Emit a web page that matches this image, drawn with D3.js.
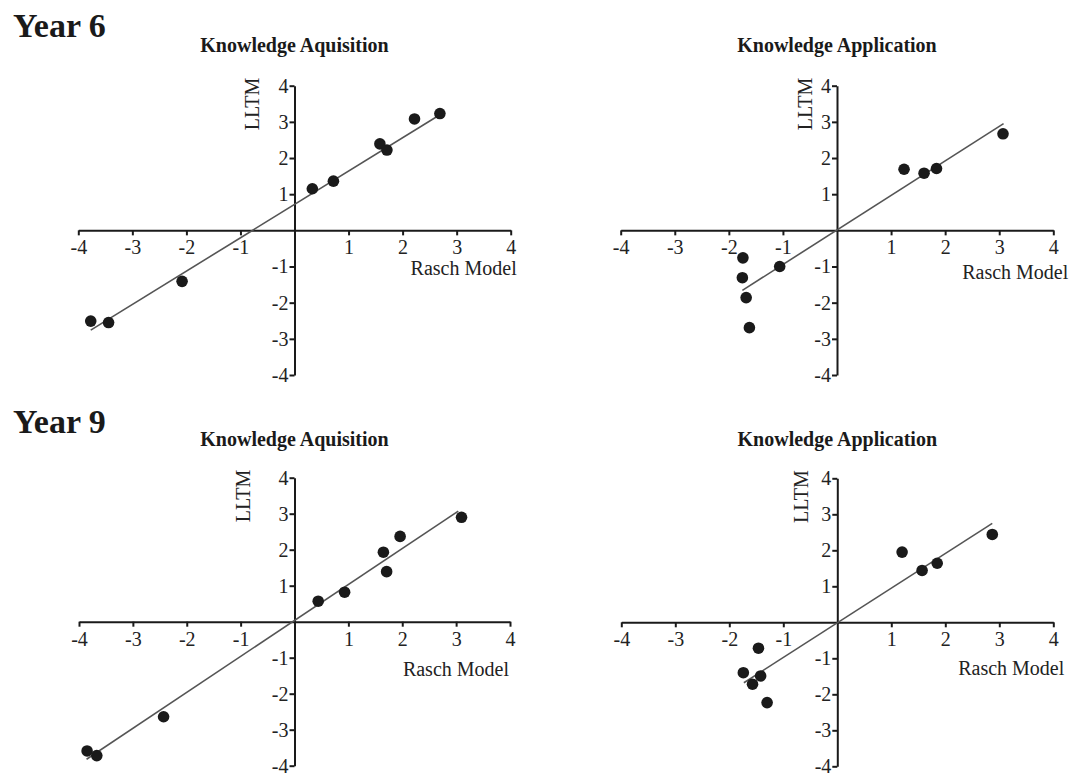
<!DOCTYPE html>
<html>
<head>
<meta charset="utf-8">
<script src="https://cdn.jsdelivr.net/npm/d3@7"></script>
<style>
  body { margin: 0; background: #fff; }
  svg { font-family: "Liberation Serif", "Times New Roman", serif; }
  .axis path, .axis line { stroke: #1a1a1a; stroke-width: 2; }
</style>
</head>
<body>
<div id="chart"></div>
<script>
// values: Rasch model estimate (x) vs LLTM estimate (y)
const tickVals = [-4, -3, -2, -1, 1, 2, 3, 4];

// Year 6 - Knowledge Aquisition
const y6AcqRasch = [-3.77, -3.44, -2.08, 0.33, 0.72, 1.58, 1.71, 2.22, 2.69];
const y6AcqLltm = [-2.51, -2.55, -1.41, 1.15, 1.36, 2.39, 2.22, 3.08, 3.23];
const y6AcqFit = [[-3.77, -2.76], [2.78, 3.28]];

// Year 6 - Knowledge Application
const y6AppRasch = [-1.74, -1.75, -1.68, -1.62, -1.06, 1.24, 1.61, 1.84, 3.07];
const y6AppLltm = [-0.76, -1.31, -1.86, -2.69, -1.0, 1.69, 1.58, 1.71, 2.67];
const y6AppFit = [[-1.75, -1.66], [3.08, 2.95]];

// Year 9 - Knowledge Aquisition
const y9AcqRasch = [-3.85, -3.67, -2.43, 0.44, 0.93, 1.65, 1.71, 1.96, 3.1];
const y9AcqLltm = [-3.59, -3.72, -2.64, 0.57, 0.82, 1.93, 1.39, 2.37, 2.9];
const y9AcqFit = [[-3.86, -3.82], [3.04, 3.07]];

// Year 9 - Knowledge Application
const y9AppRasch = [-1.46, -1.74, -1.42, -1.57, -1.3, 1.2, 1.57, 1.85, 2.87];
const y9AppLltm = [-0.72, -1.4, -1.49, -1.72, -2.23, 1.95, 1.44, 1.64, 2.44];
const y9AppFit = [[-1.73, -1.68], [2.87, 2.75]];

const width = 1070;
const height = 774;

const svg = d3
  .select("#chart")
  .append("svg")
  .attr("width", width)
  .attr("height", height);

// panel layout (pixel boxes + label nudges)
const panels = [
  { title: "Knowledge Aquisition", rasch: y6AcqRasch, lltm: y6AcqLltm, fit: y6AcqFit,
    x: [78.3, 510.7], y: [375, 85.7], titleY: 52, lltmDx: -36, raschDx: 6, raschDy: 45 },
  { title: "Knowledge Application", rasch: y6AppRasch, lltm: y6AppLltm, fit: y6AppFit,
    x: [620.7, 1053.3], y: [375, 85.7], titleY: 52, lltmDx: -25, raschDx: 15, raschDy: 49 },
  { title: "Knowledge Aquisition", rasch: y9AcqRasch, lltm: y9AcqLltm, fit: y9AcqFit,
    x: [79, 510], y: [765.7, 477.7], titleY: 446, lltmDx: -45, raschDx: -1, raschDy: 54 },
  { title: "Knowledge Application", rasch: y9AppRasch, lltm: y9AppLltm, fit: y9AppFit,
    x: [621.3, 1053.3], y: [766.3, 478.3], titleY: 446, lltmDx: -29, raschDx: 11, raschDy: 53 },
];

// year headings
svg.append("text").attr("x", 13).attr("y", 37)
  .style("font-size", "34px").style("font-weight", "bold").attr("fill", "#1a1a1a")
  .text("Year 6");
svg.append("text").attr("x", 13).attr("y", 433)
  .style("font-size", "34px").style("font-weight", "bold").attr("fill", "#1a1a1a")
  .text("Year 9");

function styleTicks(axisG) {
  axisG.attr("font-family", null).attr("font-size", null);
  axisG.selectAll("text")
    .style("font-family", '"Liberation Serif", "Times New Roman", serif')
    .style("font-size", "20px")
    .attr("fill", "#222");
}

panels.forEach((p) => {
  const xScale = d3.scaleLinear().domain([-4, 4]).range(p.x);
  const yScale = d3.scaleLinear().domain([-4, 4]).range(p.y);
  const x0 = xScale(0);
  const y0 = yScale(0);
  const g = svg.append("g");

  // title, centred over the vertical axis
  g.append("text")
    .attr("x", x0)
    .attr("y", p.titleY)
    .attr("text-anchor", "middle")
    .style("font-size", "20px")
    .style("font-weight", "bold")
    .attr("fill", "#1a1a1a")
    .text(p.title);

  // x-axis through y = 0
  const xAxis = g
    .append("g")
    .attr("class", "axis")
    .attr("transform", `translate(0,${y0})`)
    .call(d3.axisBottom(xScale).tickValues(tickVals).tickSize(5).tickSizeOuter(0)
      .tickFormat((d) => String(d)));
  styleTicks(xAxis);
  xAxis.selectAll("text").attr("y", 24).attr("dy", null);

  // y-axis through x = 0
  const yAxis = g
    .append("g")
    .attr("class", "axis")
    .attr("transform", `translate(${x0},0)`)
    .call(d3.axisLeft(yScale).tickValues(tickVals).tickSize(5).tickSizeOuter(0)
      .tickPadding(1).tickFormat((d) => String(d)));
  styleTicks(yAxis);

  // axis titles
  g.append("text")
    .attr("transform", `translate(${x0 + p.lltmDx},${p.y[1] - 8}) rotate(-90)`)
    .attr("text-anchor", "end")
    .style("font-size", "20px")
    .attr("fill", "#222")
    .text("LLTM");

  g.append("text")
    .attr("x", p.x[1] + p.raschDx)
    .attr("y", y0 + p.raschDy)
    .attr("text-anchor", "end")
    .style("font-size", "20px")
    .attr("fill", "#222")
    .text("Rasch Model");

  // fitted line
  g.append("path")
    .datum(p.fit)
    .attr("fill", "none")
    .attr("stroke", "#555")
    .attr("stroke-width", 1.6)
    .attr("d", d3.line().x((d) => xScale(d[0])).y((d) => yScale(d[1])));

  // item points
  g.selectAll(".dot")
    .data(p.rasch.map((r, i) => ({ rasch: r, lltm: p.lltm[i] })))
    .enter()
    .append("circle")
    .attr("class", "dot")
    .attr("cx", (d) => xScale(d.rasch))
    .attr("cy", (d) => yScale(d.lltm))
    .attr("r", 5.8)
    .attr("fill", "#1a1a1a");
});
</script>
</body>
</html>
